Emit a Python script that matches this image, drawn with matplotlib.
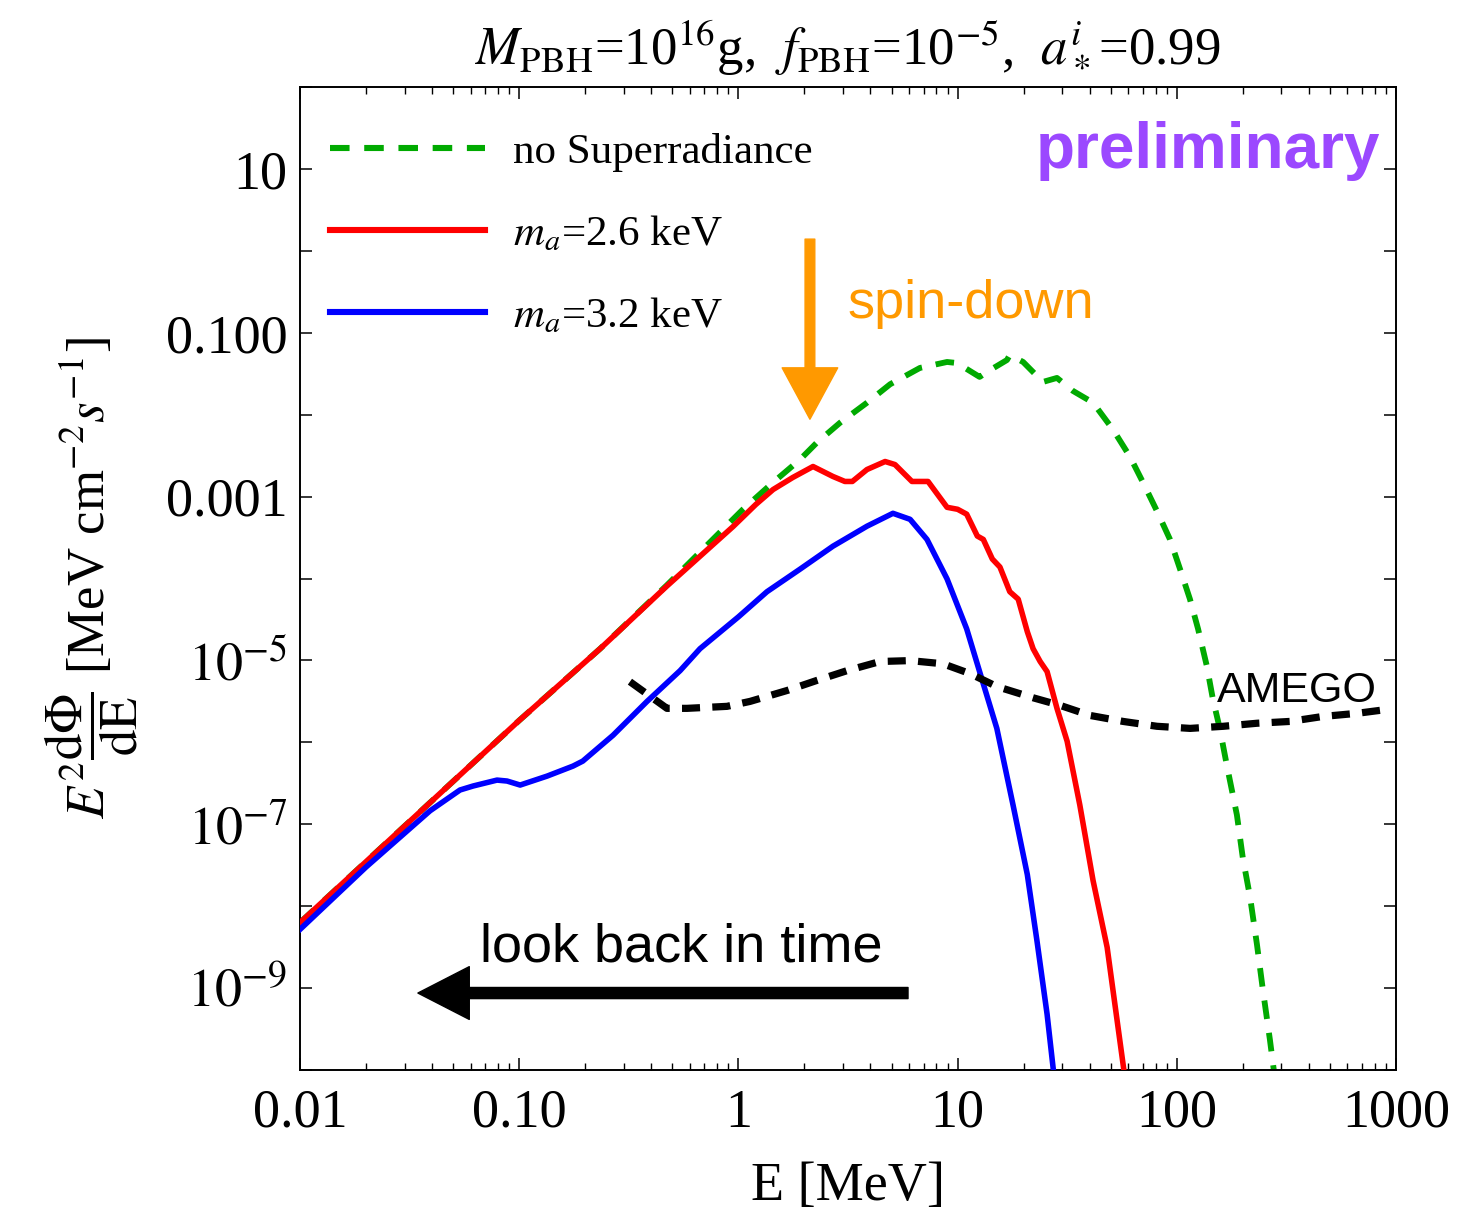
import numpy as np
import matplotlib
matplotlib.use("Agg")
import matplotlib.pyplot as plt
from matplotlib.ticker import FixedLocator, FixedFormatter, LogLocator, NullFormatter, NullLocator
from matplotlib.patches import FancyArrowPatch

plt.rcParams['font.family'] = ['Liberation Serif', 'DejaVu Serif']
plt.rcParams['mathtext.fontset'] = 'stix'

# ---------------- data ----------------
E_nosr = [0.01, 0.03, 0.1, 0.234, 0.472, 1.05, 1.44, 1.91, 2.28, 2.91, 3.86, 4.92, 6.73,
          8.95, 9.94, 12.6, 13.6, 16.8, 17.3, 19.9, 24.5, 28.4, 33.6, 41.5, 51.2, 61.1,
          70.1, 81.3, 93.1, 103.5, 114.8, 125, 137, 146, 157, 169, 188, 200, 216, 232,
          247, 266, 280]
F_nosr = [6.3e-9, 9.5e-8, 1.85e-6, 1.39e-5, 8.3e-5, 7.0e-4, 1.49e-3, 2.83e-3, 4.56e-3,
          7.98e-3, 1.40e-2, 2.35e-2, 3.72e-2, 4.40e-2, 4.27e-2, 2.89e-2, 3.32e-2, 4.65e-2,
          5.35e-2, 4.40e-2, 2.51e-2, 2.81e-2, 1.95e-2, 1.40e-2, 6.56e-3, 3.08e-3, 1.49e-3,
          6.6e-4, 3.0e-4, 1.30e-4, 5.6e-5, 2.43e-5, 8.6e-6, 3.4e-6, 1.48e-6, 5.3e-7,
          1.30e-7, 3.9e-8, 1.28e-8, 3.43e-9, 9.5e-10, 2.33e-10, 8.0e-11]

E_ma26 = [0.01, 0.03, 0.1, 0.234, 0.472, 0.945, 1.2, 1.44, 1.77, 2.19, 2.70, 3.06, 3.31,
          3.86, 4.67, 5.18, 6.19, 7.33, 8.95, 10.0, 11.0, 12.3, 13.1, 14.4, 15.6, 17.3,
          18.9, 20.8, 22.1, 23.8, 25.6, 28.4, 31.6, 36.1, 41.5, 48.1, 58.0]
F_ma26 = [6.3e-9, 9.5e-8, 1.85e-6, 1.39e-5, 8.1e-5, 4.3e-4, 8.0e-4, 1.22e-3, 1.71e-3,
          2.33e-3, 1.76e-3, 1.53e-3, 1.53e-3, 2.14e-3, 2.68e-3, 2.46e-3, 1.53e-3, 1.53e-3,
          7.4e-4, 7.0e-4, 6.1e-4, 3.3e-4, 3.0e-4, 1.73e-4, 1.38e-4, 6.9e-5, 5.6e-5,
          2.24e-5, 1.39e-5, 9.7e-6, 7.3e-6, 2.6e-6, 1.03e-6, 1.72e-7, 2.05e-8, 3.15e-9,
          8.0e-11]

E_ma32 = [0.01, 0.02, 0.0392, 0.0537, 0.0616, 0.0792, 0.088, 0.101, 0.134, 0.176, 0.195,
          0.268, 0.383, 0.542, 0.668, 1.0, 1.35, 1.91, 2.70, 3.86, 5.07, 6.07, 7.25, 8.95,
          11.0, 12.6, 15.1, 17.9, 20.8, 23.0, 25.6, 27.6]
F_ma32 = [5.2e-9, 3.0e-8, 1.46e-7, 2.62e-7, 2.93e-7, 3.46e-7, 3.37e-7, 3.01e-7, 3.87e-7,
          5.13e-7, 5.9e-7, 1.22e-6, 3.16e-6, 7.5e-6, 1.39e-5, 3.4e-5, 6.9e-5, 1.3e-4,
          2.48e-4, 4.35e-4, 6.25e-4, 5.28e-4, 3.0e-4, 9.9e-5, 2.43e-5, 7.3e-6, 1.48e-6,
          1.72e-7, 2.43e-8, 3.83e-9, 4.8e-10, 8.0e-11]

E_amego = [0.320, 0.472, 0.583, 0.887, 1.13, 1.67, 2.28, 3.13, 4.43, 6.07, 8.58, 11.4,
           15.1, 22.1, 29.3, 40.2, 56.9, 81.2, 115, 163, 232, 328, 464, 664, 909]
F_amego = [5.5e-6, 2.6e-6, 2.6e-6, 2.75e-6, 3.16e-6, 4.3e-6, 5.7e-6, 7.5e-6, 9.7e-6,
           9.95e-6, 9.1e-6, 6.9e-6, 4.8e-6, 3.5e-6, 2.83e-6, 2.13e-6, 1.80e-6, 1.57e-6,
           1.48e-6, 1.57e-6, 1.71e-6, 1.80e-6, 2.07e-6, 2.26e-6, 2.52e-6]

series_labels = ['no Superradiance', r'$m_a$=2.6 keV', r'$m_a$=3.2 keV']

xtick_vals = [0.01, 0.1, 1, 10, 100, 1000]
xtick_labels = ['0.01', '0.10', '1', '10', '100', '1000']
ytick_vals = [1e-10, 1e-9, 1e-8, 1e-7, 1e-6, 1e-5, 1e-4, 1e-3, 1e-2, 1e-1, 1, 10, 100]
ytick_labels = ['', r'$10^{-9}$', '', r'$10^{-7}$', '', r'$10^{-5}$', '', '0.001', '',
                '0.100', '', '10', '']

# ---------------- figure ----------------
fig = plt.figure(figsize=(14.69, 12.11), dpi=100)
ax = fig.add_axes([0.20422, 0.11643, 0.74609, 0.81172])
ax.set_xscale('log')
ax.set_yscale('log')

ax.plot(E_nosr, F_nosr, color='#00AA00', lw=4.2, dashes=(3.2, 2.4), label=series_labels[0], zorder=2)
ax.plot(E_ma26, F_ma26, color='#FF0000', lw=4.0, label=series_labels[1], zorder=3)
ax.plot(E_ma32, F_ma32, color='#0000FF', lw=4.0, label=series_labels[2], zorder=3)
ax.plot(E_amego, F_amego, color='black', lw=5.2, dashes=(2.5, 1.7), zorder=4)

ax.set_xlim(0.01, 1000)
ax.set_ylim(1e-10, 100)

ax.xaxis.set_major_locator(FixedLocator(xtick_vals))
ax.xaxis.set_major_formatter(FixedFormatter(xtick_labels))
ax.xaxis.set_minor_locator(LogLocator(base=10, subs=np.arange(2, 10)))
ax.xaxis.set_minor_formatter(NullFormatter())
ax.yaxis.set_major_locator(FixedLocator(ytick_vals))
ax.yaxis.set_major_formatter(FixedFormatter(ytick_labels))
ax.yaxis.set_minor_locator(NullLocator())

ax.tick_params(which='both', direction='in', top=True, right=True)
ax.tick_params(which='major', length=8.5, width=1.1, labelsize=39, pad=9)
ax.tick_params(axis='x', which='major', pad=13)
ax.tick_params(which='minor', length=5, width=1.0)
for s in ax.spines.values():
    s.set_linewidth(1.4)

ax.set_xlabel('E [MeV]', fontsize=39)
ax.xaxis.set_label_coords(0.5, -0.093)
ax.set_ylabel(r'$E^2\dfrac{\mathrm{d\Phi}}{\mathrm{dE}}$ [MeV cm$^{-2}$$s^{-1}$]', fontsize=38)
ax.yaxis.set_label_coords(-0.146, 0.5)

ax.set_title(r'$M_{\mathrm{PBH}}$=10$^{16}$g,  $f_{\mathrm{PBH}}$=10$^{-5}$,  $a_*^i$=0.99',
             fontsize=38, pad=18)

leg = ax.legend(loc='upper left', bbox_to_anchor=(0.027, 0.953), frameon=False,
                fontsize=31, handlelength=3.6, handletextpad=0.65, labelspacing=0.98,
                borderpad=0, borderaxespad=0)
for h in leg.get_lines():
    h.set_linewidth(4.4)

# annotations
ax.text(0.9854, 0.9176, 'preliminary', transform=ax.transAxes, ha='right', va='baseline',
        fontsize=46, fontweight='bold', family='Liberation Sans', color='#9B48FF')
ax.text(0.5, 0.765, 'spin-down', transform=ax.transAxes, ha='left', va='baseline',
        fontsize=39, family='Liberation Sans', color='#FF9900')
ax.text(0.164, 0.1099, 'look back in time', transform=ax.transAxes, ha='left', va='baseline',
        fontsize=39, family='Liberation Sans', color='black')
ax.text(0.8367, 0.3744, 'AMEGO', transform=ax.transAxes, ha='left', va='baseline',
        fontsize=31, family='Liberation Sans', color='black')

orange_arrow = FancyArrowPatch((2.12, 1.39), (2.12, 8.8e-3),
                               arrowstyle='simple,head_length=37,head_width=40,tail_width=7',
                               mutation_scale=1, color='#FF9900', shrinkA=0, shrinkB=0, zorder=5)
ax.add_patch(orange_arrow)
black_arrow = FancyArrowPatch((5.94, 8.7e-10), (0.0345, 8.7e-10),
                              arrowstyle='simple,head_length=37,head_width=38,tail_width=8',
                              mutation_scale=1, color='black', shrinkA=0, shrinkB=0, zorder=5)
ax.add_patch(black_arrow)

fig.savefig('out.png', dpi=100)
